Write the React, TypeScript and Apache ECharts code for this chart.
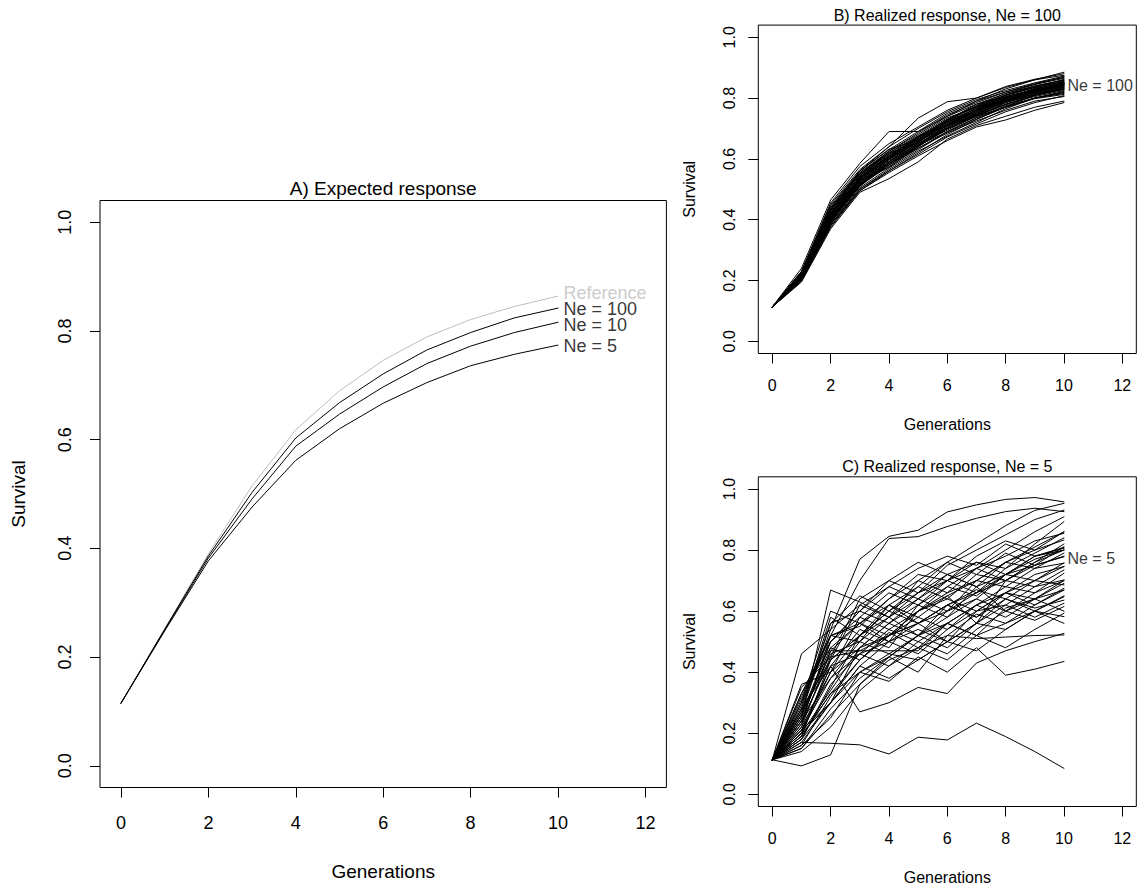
import React, { useEffect, useRef } from "react";
import * as echarts from "echarts";

const generations = [0, 1, 2, 3, 4, 5, 6, 7, 8, 9, 10];
const xTicks = [0, 2, 4, 6, 8, 10, 12];
const yTicks = [0, 0.2, 0.4, 0.6, 0.8, 1];

// Panel A: expected response
const referenceCurve = [0.115, 0.252, 0.39, 0.515, 0.618, 0.69, 0.746, 0.789, 0.821, 0.845, 0.864];
const ne100Curve = [0.115, 0.251, 0.386, 0.503, 0.603, 0.668, 0.721, 0.765, 0.797, 0.824, 0.842];
const ne10Curve = [0.115, 0.25, 0.382, 0.491, 0.588, 0.647, 0.697, 0.74, 0.772, 0.797, 0.816];
const ne5Curve = [0.115, 0.248, 0.377, 0.476, 0.562, 0.62, 0.667, 0.705, 0.736, 0.757, 0.774];
const expectedNames = ["Reference", "Ne = 100", "Ne = 10", "Ne = 5"];
const expectedLabelY = [0.87, 0.84, 0.811, 0.772];

// Panel B: realized response, Ne = 100
const realizedNe100 = [
  [0.113, 0.24, 0.465, 0.585, 0.69, 0.69, 0.74, 0.79, 0.83, 0.86, 0.885],
  [0.113, 0.225, 0.44, 0.56, 0.64, 0.734, 0.788, 0.8, 0.835, 0.86, 0.875],
  [0.113, 0.215, 0.42, 0.54, 0.61, 0.67, 0.73, 0.77, 0.8, 0.825, 0.85],
  [0.113, 0.205, 0.395, 0.515, 0.585, 0.645, 0.7, 0.745, 0.79, 0.815, 0.83],
  [0.113, 0.21, 0.41, 0.53, 0.6, 0.655, 0.715, 0.76, 0.795, 0.82, 0.845],
  [0.113, 0.22, 0.43, 0.55, 0.625, 0.68, 0.74, 0.78, 0.815, 0.84, 0.86],
  [0.113, 0.2, 0.38, 0.5, 0.56, 0.62, 0.68, 0.73, 0.77, 0.8, 0.82],
  [0.113, 0.195, 0.37, 0.49, 0.535, 0.59, 0.665, 0.71, 0.74, 0.77, 0.79],
  [0.113, 0.215, 0.405, 0.525, 0.595, 0.65, 0.705, 0.75, 0.785, 0.81, 0.835],
  [0.113, 0.23, 0.445, 0.56, 0.63, 0.69, 0.75, 0.79, 0.82, 0.845, 0.87],
  [0.113, 0.21, 0.4, 0.52, 0.58, 0.64, 0.7, 0.74, 0.78, 0.81, 0.828],
  [0.113, 0.205, 0.39, 0.51, 0.59, 0.66, 0.72, 0.765, 0.8, 0.83, 0.848],
  [0.113, 0.22, 0.425, 0.545, 0.615, 0.665, 0.725, 0.775, 0.81, 0.835, 0.855],
  [0.113, 0.2, 0.385, 0.505, 0.57, 0.63, 0.69, 0.735, 0.775, 0.8, 0.815],
  [0.113, 0.215, 0.415, 0.535, 0.605, 0.66, 0.71, 0.745, 0.79, 0.825, 0.845],
  [0.113, 0.225, 0.435, 0.555, 0.62, 0.675, 0.735, 0.77, 0.805, 0.83, 0.852],
  [0.113, 0.21, 0.4, 0.525, 0.59, 0.645, 0.695, 0.74, 0.785, 0.815, 0.838],
  [0.113, 0.205, 0.395, 0.515, 0.575, 0.635, 0.685, 0.725, 0.76, 0.79, 0.805],
  [0.113, 0.22, 0.42, 0.54, 0.605, 0.665, 0.725, 0.765, 0.795, 0.82, 0.842],
  [0.113, 0.215, 0.41, 0.53, 0.6, 0.67, 0.73, 0.775, 0.815, 0.845, 0.865],
  [0.113, 0.2, 0.38, 0.495, 0.555, 0.61, 0.66, 0.705, 0.728, 0.76, 0.785],
  [0.113, 0.23, 0.45, 0.565, 0.64, 0.7, 0.755, 0.795, 0.825, 0.85, 0.872],
  [0.113, 0.21, 0.405, 0.52, 0.585, 0.64, 0.705, 0.75, 0.79, 0.82, 0.84],
  [0.113, 0.215, 0.415, 0.535, 0.6, 0.655, 0.715, 0.76, 0.8, 0.83, 0.85],
  [0.113, 0.22, 0.43, 0.55, 0.62, 0.675, 0.72, 0.76, 0.79, 0.812, 0.832],
  [0.113, 0.205, 0.39, 0.51, 0.58, 0.645, 0.71, 0.755, 0.795, 0.825, 0.847],
  [0.113, 0.225, 0.44, 0.555, 0.625, 0.685, 0.745, 0.785, 0.82, 0.848, 0.868],
  [0.113, 0.21, 0.4, 0.52, 0.59, 0.65, 0.7, 0.745, 0.78, 0.805, 0.825],
  [0.113, 0.2, 0.385, 0.5, 0.565, 0.625, 0.675, 0.72, 0.765, 0.8, 0.822],
  [0.113, 0.215, 0.41, 0.53, 0.6, 0.66, 0.72, 0.76, 0.8, 0.825, 0.843],
  [0.113, 0.22, 0.425, 0.545, 0.61, 0.67, 0.73, 0.77, 0.81, 0.838, 0.858],
  [0.113, 0.205, 0.395, 0.515, 0.58, 0.635, 0.69, 0.735, 0.77, 0.8, 0.818],
  [0.113, 0.215, 0.415, 0.535, 0.605, 0.66, 0.715, 0.755, 0.792, 0.818, 0.837],
  [0.113, 0.21, 0.405, 0.525, 0.59, 0.65, 0.71, 0.752, 0.788, 0.815, 0.835],
  [0.113, 0.225, 0.435, 0.55, 0.615, 0.672, 0.728, 0.772, 0.808, 0.835, 0.853],
  [0.113, 0.2, 0.375, 0.495, 0.56, 0.615, 0.672, 0.715, 0.755, 0.785, 0.808],
  [0.113, 0.215, 0.41, 0.528, 0.598, 0.656, 0.712, 0.758, 0.795, 0.822, 0.844],
  [0.113, 0.23, 0.455, 0.575, 0.65, 0.705, 0.76, 0.8, 0.838, 0.862, 0.88],
  [0.113, 0.21, 0.4, 0.518, 0.585, 0.642, 0.698, 0.742, 0.778, 0.808, 0.829],
  [0.113, 0.22, 0.42, 0.538, 0.608, 0.664, 0.722, 0.766, 0.803, 0.828, 0.848],
  [0.113, 0.212, 0.392, 0.545, 0.62, 0.645, 0.688, 0.73, 0.772, 0.81, 0.83],
  [0.113, 0.218, 0.435, 0.528, 0.572, 0.64, 0.705, 0.762, 0.81, 0.84, 0.858],
  [0.113, 0.208, 0.402, 0.51, 0.6, 0.672, 0.712, 0.74, 0.77, 0.798, 0.812],
  [0.113, 0.226, 0.418, 0.56, 0.632, 0.662, 0.7, 0.748, 0.798, 0.832, 0.862],
  [0.113, 0.203, 0.388, 0.54, 0.61, 0.652, 0.728, 0.78, 0.805, 0.822, 0.84],
];
const ne100LabelY = 0.841;

// Panel C: realized response, Ne = 5
const realizedNe5 = [
  [0.113, 0.17, 0.167, 0.162, 0.132, 0.187, 0.178, 0.233, 0.189, 0.14, 0.085],
  [0.113, 0.2, 0.3, 0.4, 0.37, 0.45, 0.4, 0.48, 0.39, 0.41, 0.435],
  [0.113, 0.46, 0.54, 0.77, 0.845, 0.865, 0.925, 0.948, 0.966, 0.972, 0.958],
  [0.113, 0.33, 0.52, 0.7, 0.838, 0.844, 0.877, 0.904, 0.926, 0.937, 0.926],
  [0.113, 0.25, 0.669, 0.63, 0.58, 0.7, 0.76, 0.82, 0.88, 0.93, 0.953],
  [0.113, 0.093, 0.129, 0.36, 0.45, 0.52, 0.6, 0.64, 0.72, 0.75, 0.78],
  [0.113, 0.28, 0.42, 0.27, 0.3, 0.35, 0.33, 0.43, 0.47, 0.5, 0.527],
  [0.113, 0.22, 0.47, 0.47, 0.47, 0.47, 0.56, 0.52, 0.61, 0.64, 0.7],
  [0.113, 0.3, 0.52, 0.55, 0.64, 0.72, 0.7, 0.78, 0.83, 0.8, 0.86],
  [0.113, 0.18, 0.35, 0.52, 0.48, 0.6, 0.65, 0.56, 0.7, 0.75, 0.811],
  [0.113, 0.26, 0.5, 0.6, 0.56, 0.64, 0.72, 0.76, 0.74, 0.82, 0.893],
  [0.113, 0.15, 0.28, 0.38, 0.45, 0.4, 0.52, 0.51, 0.515, 0.52, 0.522],
  [0.113, 0.35, 0.45, 0.64, 0.7, 0.66, 0.75, 0.8, 0.85, 0.9, 0.931],
  [0.113, 0.2, 0.4, 0.48, 0.56, 0.62, 0.58, 0.68, 0.72, 0.78, 0.806],
  [0.113, 0.24, 0.38, 0.5, 0.62, 0.56, 0.6, 0.7, 0.76, 0.8, 0.833],
  [0.113, 0.19, 0.33, 0.44, 0.53, 0.48, 0.56, 0.62, 0.58, 0.64, 0.691],
  [0.113, 0.27, 0.56, 0.6, 0.68, 0.64, 0.7, 0.74, 0.78, 0.83, 0.855],
  [0.113, 0.16, 0.25, 0.4, 0.45, 0.52, 0.48, 0.56, 0.64, 0.6, 0.647],
  [0.113, 0.31, 0.52, 0.56, 0.5, 0.62, 0.68, 0.65, 0.72, 0.77, 0.8],
  [0.113, 0.23, 0.45, 0.47, 0.52, 0.56, 0.5, 0.6, 0.62, 0.68, 0.735],
  [0.113, 0.21, 0.3, 0.42, 0.5, 0.46, 0.54, 0.6, 0.66, 0.72, 0.746],
  [0.113, 0.29, 0.56, 0.65, 0.6, 0.68, 0.76, 0.72, 0.79, 0.75, 0.778],
  [0.113, 0.18, 0.36, 0.46, 0.42, 0.48, 0.52, 0.59, 0.56, 0.62, 0.669],
  [0.113, 0.25, 0.47, 0.56, 0.62, 0.58, 0.65, 0.7, 0.68, 0.74, 0.757],
  [0.113, 0.14, 0.22, 0.34, 0.42, 0.5, 0.46, 0.54, 0.6, 0.57, 0.615],
  [0.113, 0.32, 0.5, 0.6, 0.7, 0.76, 0.72, 0.68, 0.76, 0.81, 0.86],
  [0.113, 0.2, 0.42, 0.54, 0.5, 0.56, 0.62, 0.66, 0.7, 0.68, 0.702],
  [0.113, 0.26, 0.48, 0.44, 0.52, 0.6, 0.64, 0.6, 0.66, 0.7, 0.686],
  [0.113, 0.17, 0.3, 0.48, 0.56, 0.52, 0.62, 0.67, 0.64, 0.61, 0.636],
  [0.113, 0.23, 0.52, 0.5, 0.58, 0.64, 0.6, 0.66, 0.72, 0.7, 0.758],
  [0.113, 0.21, 0.38, 0.46, 0.54, 0.5, 0.56, 0.52, 0.56, 0.6, 0.56],
  [0.113, 0.28, 0.44, 0.52, 0.6, 0.66, 0.7, 0.76, 0.72, 0.78, 0.809],
  [0.113, 0.19, 0.33, 0.4, 0.46, 0.44, 0.5, 0.56, 0.62, 0.58, 0.626],
  [0.113, 0.24, 0.5, 0.58, 0.54, 0.6, 0.66, 0.7, 0.76, 0.74, 0.79],
  [0.113, 0.15, 0.26, 0.36, 0.44, 0.48, 0.44, 0.52, 0.48, 0.54, 0.593],
  [0.113, 0.3, 0.6, 0.56, 0.64, 0.7, 0.66, 0.74, 0.8, 0.86, 0.909],
  [0.113, 0.22, 0.4, 0.52, 0.6, 0.56, 0.62, 0.58, 0.66, 0.64, 0.669],
  [0.113, 0.26, 0.46, 0.5, 0.46, 0.52, 0.58, 0.64, 0.6, 0.66, 0.724],
  [0.113, 0.2, 0.34, 0.48, 0.52, 0.58, 0.54, 0.62, 0.68, 0.66, 0.7],
  [0.113, 0.18, 0.3, 0.42, 0.38, 0.44, 0.5, 0.47, 0.54, 0.6, 0.582],
  [0.113, 0.27, 0.54, 0.62, 0.68, 0.74, 0.78, 0.75, 0.82, 0.78, 0.8],
  [0.113, 0.21, 0.42, 0.46, 0.5, 0.54, 0.5, 0.56, 0.54, 0.6, 0.65],
  [0.113, 0.33, 0.48, 0.56, 0.52, 0.6, 0.68, 0.74, 0.7, 0.76, 0.82],
  [0.113, 0.16, 0.32, 0.44, 0.52, 0.56, 0.62, 0.58, 0.64, 0.7, 0.746],
  [0.113, 0.24, 0.44, 0.52, 0.58, 0.52, 0.56, 0.62, 0.66, 0.62, 0.675],
  [0.113, 0.36, 0.4, 0.58, 0.66, 0.62, 0.7, 0.66, 0.74, 0.79, 0.84],
  [0.113, 0.28, 0.58, 0.52, 0.62, 0.68, 0.64, 0.72, 0.7, 0.76, 0.8],
  [0.113, 0.19, 0.44, 0.62, 0.58, 0.66, 0.72, 0.68, 0.6, 0.64, 0.6],
];
const ne5LabelY = 0.771;

const FONT = '"Liberation Sans", Arial, Helvetica, sans-serif';

const panels = [
  { left: 100, top: 200.5, width: 566.4, height: 587, fs: 19, tickFs: 18, labelFs: 18, xMargin: 26, yMargin: 26, labelDist: 5 },
  { left: 758.3, top: 25.1, width: 378, height: 328.4, fs: 16, tickFs: 16, labelFs: 16, xMargin: 24, yMargin: 21, labelDist: 3 },
  { left: 758.3, top: 476.8, width: 378, height: 329.7, fs: 16, tickFs: 16, labelFs: 16, xMargin: 24, yMargin: 21, labelDist: 3 },
];

const titles = ["A) Expected response", "B) Realized response, Ne = 100", "C) Realized response, Ne = 5"];

function toPoints(vals: number[]) {
  return vals.map((v, i) => [generations[i], v]);
}

function lineSeries(vals: number[], idx: number, color = "#000") {
  return {
    type: "line",
    xAxisIndex: idx,
    yAxisIndex: idx,
    data: toPoints(vals),
    symbol: "none",
    silent: true,
    lineStyle: { color, width: 1, cap: "round", join: "round" },
    z: 3,
  };
}

function labelSeries(idx: number, items: { name: string; y: number; color: string }[], fs: number, dist: number) {
  return {
    type: "scatter",
    xAxisIndex: idx,
    yAxisIndex: idx,
    symbolSize: 1,
    silent: true,
    itemStyle: { color: "rgba(0,0,0,0)" },
    z: 4,
    data: items.map((it) => ({
      name: it.name,
      value: [generations[generations.length - 1], it.y],
      label: { color: it.color },
    })),
    label: {
      show: true,
      position: "right",
      distance: dist,
      formatter: "{b}",
      fontSize: fs,
      lineHeight: Math.round(fs * 0.78),
      fontFamily: FONT,
    },
  };
}

export default function App() {
  const ref = useRef<HTMLDivElement>(null);

  useEffect(() => {
    if (!ref.current) return;
    const chart = echarts.init(ref.current, null, { renderer: "svg" });

    const grids = panels.map((p) => ({
      left: p.left,
      top: p.top,
      width: p.width,
      height: p.height,
      show: true,
      borderColor: "#000",
      borderWidth: 1,
      backgroundColor: "transparent",
      containLabel: false,
      outerBoundsMode: "none",
    }));

    const xAxes = panels.map((p, i) => ({
      type: "value",
      gridIndex: i,
      position: "bottom",
      min: -0.48,
      max: 12.48,
      axisLine: { show: false, onZero: false },
      splitLine: { show: false },
      axisTick: { show: true, inside: false, length: 10, customValues: xTicks, lineStyle: { color: "#000", width: 1 } },
      axisLabel: {
        customValues: xTicks,
        margin: p.xMargin,
        fontSize: p.tickFs,
        fontFamily: FONT,
        color: "#000",
        formatter: (v: number) => String(v),
      },
    }));

    const yAxes = panels.map((p, i) => ({
      type: "value",
      gridIndex: i,
      position: "left",
      min: -0.04,
      max: 1.04,
      axisLine: { show: false, onZero: false },
      splitLine: { show: false },
      axisTick: { show: true, inside: false, length: 10, customValues: yTicks, lineStyle: { color: "#000", width: 1 } },
      axisLabel: {
        customValues: yTicks,
        margin: p.yMargin,
        rotate: 90,
        fontSize: p.tickFs,
        lineHeight: p.tickFs,
        fontFamily: FONT,
        color: "#000",
        formatter: (v: number) => v.toFixed(1),
      },
    }));

    const series: any[] = [
      lineSeries(referenceCurve, 0, "#BEBEBE"),
      lineSeries(ne100Curve, 0),
      lineSeries(ne10Curve, 0),
      lineSeries(ne5Curve, 0),
      labelSeries(
        0,
        expectedNames.map((n, k) => ({ name: n, y: expectedLabelY[k], color: k === 0 ? "#BEBEBE" : "#000" })),
        panels[0].labelFs,
        panels[0].labelDist
      ),
    ];
    realizedNe100.forEach((r) => series.push(lineSeries(r, 1)));
    series.push(labelSeries(1, [{ name: "Ne = 100", y: ne100LabelY, color: "#000" }], panels[1].labelFs, panels[1].labelDist));
    realizedNe5.forEach((r) => series.push(lineSeries(r, 2)));
    series.push(labelSeries(2, [{ name: "Ne = 5", y: ne5LabelY, color: "#000" }], panels[2].labelFs, panels[2].labelDist));

    const graphics: any[] = [];
    panels.forEach((p, i) => {
      const cx = p.left + p.width / 2;
      const cy = p.top + p.height / 2;
      const bottom = p.top + p.height;
      const s = p.fs / 16;
      graphics.push({
        type: "text",
        x: cx,
        y: p.top - 10 * s,
        style: { text: titles[i], align: "center", verticalAlign: "middle", fontSize: p.fs, fontFamily: FONT, fill: "#000" },
      });
      graphics.push({
        type: "text",
        x: cx,
        y: bottom + 71 * s,
        style: { text: "Generations", align: "center", verticalAlign: "middle", fontSize: p.fs, fontFamily: FONT, fill: "#000" },
      });
      graphics.push({
        type: "text",
        x: p.left - 68.5 * s,
        y: cy,
        rotation: Math.PI / 2,
        style: { text: "Survival", align: "center", verticalAlign: "middle", fontSize: p.fs, fontFamily: FONT, fill: "#000" },
      });
    });

    chart.setOption({
      animation: false,
      backgroundColor: "#fff",
      grid: grids,
      xAxis: xAxes,
      yAxis: yAxes,
      series,
      graphic: graphics,
    });

    return () => chart.dispose();
  }, []);

  return (
    <div
      ref={ref}
      style={{ position: "absolute", left: 0, top: 0, width: 1138, height: 885 }}
    />
  );
}
